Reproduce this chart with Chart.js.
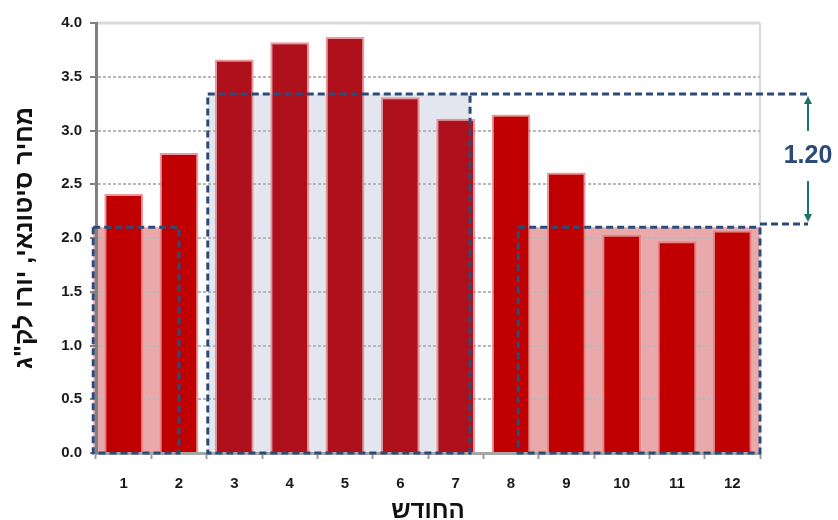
<!DOCTYPE html>
<html>
<head>
<meta charset="utf-8">
<script src="https://cdn.jsdelivr.net/npm/chart.js@4/dist/chart.umd.min.js"></script>
<style>
  html, body { margin: 0; padding: 0; background: #ffffff; }
  #wrap { width: 838px; height: 520px; }
</style>
</head>
<body>
<div id="wrap"><canvas id="c" width="838" height="520"></canvas></div>
<script>
// ---- data ----
const months = ['1', '2', '3', '4', '5', '6', '7', '8', '9', '10', '11', '12'];
const prices = [2.41, 2.79, 3.66, 3.82, 3.87, 3.31, 3.11, 3.15, 2.61, 2.03, 1.97, 2.07];
const yMin = 0, yMax = 4, yStep = 0.5;
const yTitle = 'מחיר סיטונאי, יורו לק"ג';
const xTitle = 'החודש';
// shaded zones (category-index ranges and top values)
const zoneFrom = [-0.55, 1.52, 7.13];
const zoneTo = [1.0, 6.26, 11.5];
const zoneTop = [2.10, 3.34, 2.10];
const zoneKind = ['low', 'high', 'low'];
// gap annotation
const gapTop = 3.34;
const gapBottom = 2.13;
const gapLabel = '1.20';

// ---- styles ----
const RED = '#c00000';
const DARK_RED = '#af111c';
const ZONE_FILL = { low: '#e9a8aa', high: '#e3e6ee' };
const DASH_COLOR = '#2c4b78';
const FONT = '"Liberation Sans", Arial, sans-serif';

const barColors = prices.map((_, i) => {
  for (let k = 0; k < zoneKind.length; k++) {
    if (zoneKind[k] === 'high' && i >= zoneFrom[k] && i <= zoneTo[k]) return DARK_RED;
  }
  return RED;
});

function idxPx(xs, v) {
  const p0 = xs.getPixelForValue(0), p1 = xs.getPixelForValue(1);
  return p0 + v * (p1 - p0);
}

const zonesPlugin = {
  id: 'zones',
  beforeDraw(chart) {
    const { ctx, chartArea } = chart;
    const xs = chart.scales.x, ys = chart.scales.y;
    ctx.save();
    ctx.fillStyle = '#ffffff';
    ctx.fillRect(0, 0, chart.width, chart.height);
    for (let k = 0; k < zoneFrom.length; k++) {
      const x1 = idxPx(xs, zoneFrom[k]), x2 = idxPx(xs, zoneTo[k]);
      const y1 = ys.getPixelForValue(zoneTop[k]), y2 = ys.getPixelForValue(0);
      ctx.fillStyle = ZONE_FILL[zoneKind[k]];
      ctx.fillRect(x1, y1, x2 - x1, y2 - y1);
    }
    // frame: top and right
    ctx.strokeStyle = '#d9d9d9';
    ctx.lineWidth = 3;
    ctx.beginPath();
    ctx.moveTo(chartArea.left, chartArea.top);
    ctx.lineTo(chartArea.right, chartArea.top);
    ctx.stroke();
    ctx.lineWidth = 2;
    ctx.beginPath();
    ctx.moveTo(chartArea.right, chartArea.top);
    ctx.lineTo(chartArea.right, chartArea.bottom);
    ctx.stroke();
    ctx.restore();
  },
  afterDatasetsDraw(chart) {
    const { ctx, chartArea } = chart;
    const xs = chart.scales.x, ys = chart.scales.y;
    const gx = chartArea.right + 48;
    ctx.save();
    ctx.strokeStyle = DASH_COLOR;
    ctx.lineWidth = 3;
    ctx.setLineDash([7, 4]);
    for (let k = 0; k < zoneFrom.length; k++) {
      const x1 = idxPx(xs, zoneFrom[k]), x2 = idxPx(xs, zoneTo[k]);
      const y1 = ys.getPixelForValue(zoneTop[k]), y2 = ys.getPixelForValue(0);
      ctx.strokeRect(x1, y1, x2 - x1, y2 - y1);
    }
    // extension lines to the gap bracket
    const yT = ys.getPixelForValue(gapTop), yB = ys.getPixelForValue(gapBottom);
    ctx.beginPath();
    ctx.moveTo(idxPx(xs, zoneTo[1]), yT);
    ctx.lineTo(gx, yT);
    ctx.moveTo(idxPx(xs, zoneTo[2]), yB);
    ctx.lineTo(gx, yB);
    ctx.stroke();
    ctx.setLineDash([]);
    // arrows
    const mid = (yT + yB) / 2;
    ctx.strokeStyle = '#1b7565';
    ctx.fillStyle = '#1b7565';
    ctx.lineWidth = 2;
    ctx.beginPath();
    ctx.moveTo(gx, yT + 4); ctx.lineTo(gx, mid - 28);
    ctx.moveTo(gx, mid + 22); ctx.lineTo(gx, yB - 4);
    ctx.stroke();
    ctx.beginPath();
    ctx.moveTo(gx, yT + 2); ctx.lineTo(gx - 4, yT + 10); ctx.lineTo(gx + 4, yT + 10); ctx.closePath();
    ctx.moveTo(gx, yB - 2); ctx.lineTo(gx - 4, yB - 10); ctx.lineTo(gx + 4, yB - 10); ctx.closePath();
    ctx.fill();
    // label
    ctx.fillStyle = DASH_COLOR;
    ctx.font = 'bold 25px ' + FONT;
    ctx.textAlign = 'center';
    ctx.textBaseline = 'middle';
    ctx.fillText(gapLabel, gx, mid - 3);
    ctx.restore();
  }
};

new Chart(document.getElementById('c'), {
  type: 'bar',
  data: {
    labels: months,
    datasets: [{
      data: prices,
      backgroundColor: barColors,
      borderColor: 'rgba(225,120,125,0.75)',
      borderWidth: 2,
      borderSkipped: 'bottom',
      barPercentage: 0.7,
      categoryPercentage: 1.0
    }]
  },
  options: {
    responsive: false,
    animation: false,
    devicePixelRatio: 1,
    layout: { padding: { top: 23, right: 78, left: 0, bottom: 0 } },
    plugins: { legend: { display: false }, tooltip: { enabled: false } },
    scales: {
      x: {
        offset: true,
        grid: { display: true, drawOnChartArea: false, offset: true, drawTicks: true, tickLength: 6, tickColor: '#9a9a9a', tickWidth: 2 },
        border: { display: true, color: '#a6a6a6', width: 3 },
        ticks: { color: '#1a1a1a', font: { family: FONT, size: 15, weight: 'bold' }, padding: 16 },
        title: { display: true, text: xTitle, color: '#111', font: { family: FONT, size: 24, weight: 'bold' }, padding: { top: 0, bottom: -6 } },
        afterFit(scale) { scale.height = 67; }
      },
      y: {
        min: yMin, max: yMax,
        ticks: { stepSize: yStep, color: '#1a1a1a', font: { family: FONT, size: 15, weight: 'bold' }, padding: 8, callback: v => Number(v).toFixed(1) },
        grid: {
          color: ctx => (ctx.tick && ctx.tick.value === yMax) ? 'rgba(0,0,0,0)' : '#b8b8b8',
          lineWidth: 2,
          drawTicks: true, tickLength: 6, tickColor: '#808080', tickWidth: 2
        },
        border: { display: true, color: '#808080', width: 3, dash: [3, 2] },
        title: { display: true, text: yTitle, color: '#111', font: { family: FONT, size: 25, weight: 'bold' }, padding: { top: 10, bottom: 0 } },
        afterFit(scale) { scale.width = 96; }
      }
    }
  },
  plugins: [zonesPlugin]
});
</script>
</body>
</html>
